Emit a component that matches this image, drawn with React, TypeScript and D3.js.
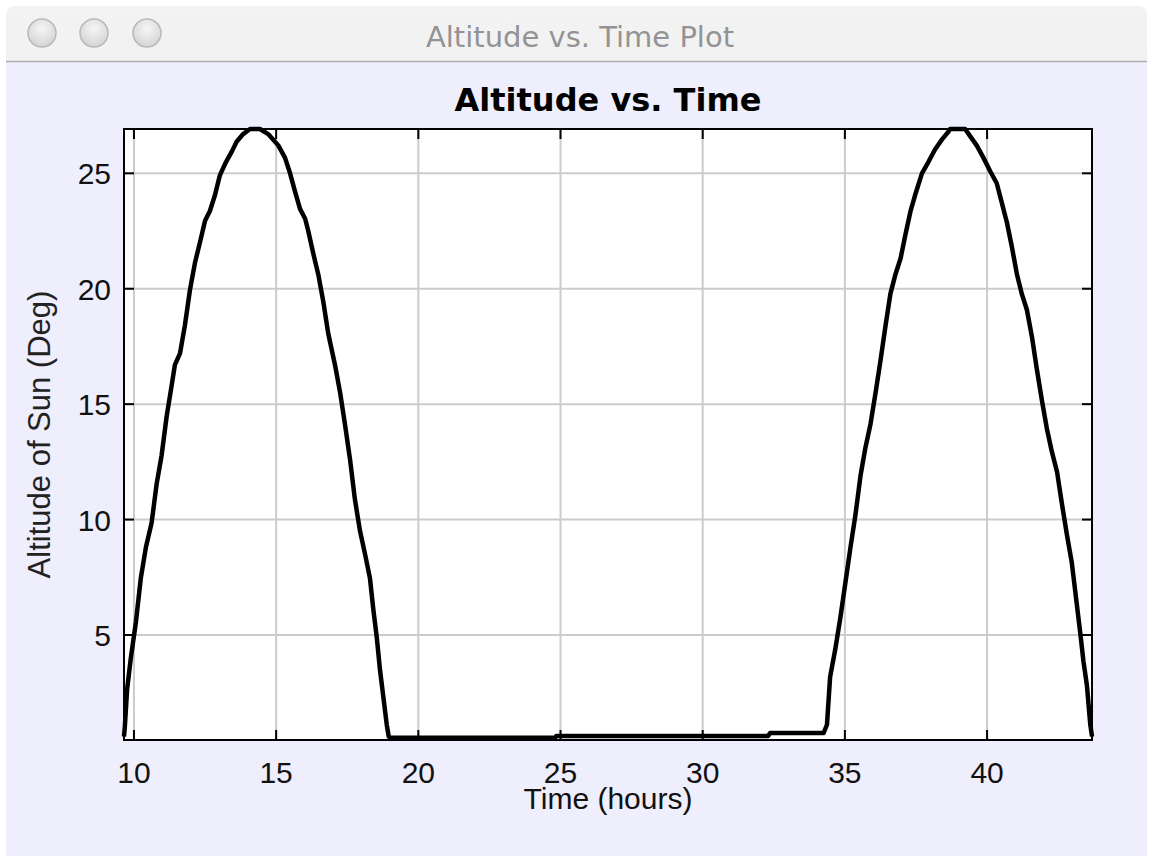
import { useEffect, useRef } from "react";
import * as d3 from "d3";

// altitude of the sun (hours, degrees)
const timeHours = [
  9.65, 9.68, 9.76, 9.89, 10.07, 10.24, 10.42, 10.62, 10.8, 10.97,
  11.15, 11.33, 11.44, 11.62, 11.79, 11.97, 12.15, 12.32, 12.5, 12.67,
  12.85, 13.02, 13.24, 13.44, 13.61, 13.84, 14.08, 14.43, 14.72, 15.08,
  15.31, 15.49, 15.66, 15.84, 16.02, 16.13, 16.31, 16.48, 16.66, 16.83,
  17.07, 17.25, 17.42, 17.6, 17.77, 17.95, 18.13, 18.3, 18.42, 18.54,
  18.65, 18.77, 18.89, 18.96, 19.0, 24.81, 24.85, 32.3, 32.37, 34.25,
  34.37, 34.48, 34.66, 34.84, 35.02, 35.2, 35.37, 35.55, 35.72, 35.9,
  36.08, 36.25, 36.43, 36.6, 36.78, 36.96, 37.13, 37.31, 37.47, 37.71,
  37.94, 38.17, 38.41, 38.64, 38.7, 39.23, 39.41, 39.64, 39.87, 40.11,
  40.34, 40.52, 40.7, 40.87, 41.05, 41.22, 41.4, 41.58, 41.75, 41.93,
  42.1, 42.28, 42.46, 42.63, 42.81, 42.98, 43.13, 43.28, 43.39, 43.51,
  43.63, 43.69,
];

const altitudeDeg = [
  0.6, 1.03, 2.65, 4.0, 5.57, 7.45, 8.8, 9.85, 11.56, 12.76,
  14.47, 15.84, 16.7, 17.2, 18.4, 19.95, 21.15, 22.0, 22.95, 23.37,
  24.06, 24.91, 25.5, 25.94, 26.37, 26.7, 26.92, 26.92, 26.7, 26.2,
  25.68, 25.0, 24.23, 23.46, 23.03, 22.5, 21.5, 20.63, 19.43, 18.07,
  16.7, 15.5, 14.13, 12.59, 10.87, 9.5, 8.48, 7.45, 6.08, 4.88,
  3.51, 2.31, 1.11, 0.6, 0.55, 0.55, 0.62, 0.62, 0.75, 0.75,
  1.11, 3.17, 4.37, 5.74, 7.28, 8.82, 10.19, 11.9, 13.1, 14.13,
  15.5, 16.87, 18.4, 19.78, 20.63, 21.32, 22.35, 23.37, 24.06, 25.0,
  25.5, 26.03, 26.46, 26.8, 26.92, 26.92, 26.6, 26.2, 25.68, 25.09,
  24.57, 23.72, 22.86, 21.83, 20.63, 19.78, 19.09, 17.9, 16.52, 15.15,
  13.96, 12.93, 12.07, 10.7, 9.33, 8.13, 6.59, 5.05, 3.85, 2.83,
  1.11, 0.6,
];

const xTicks = [10, 15, 20, 25, 30, 35, 40];
const yTicks = [5, 10, 15, 20, 25];
const xDomain = [9.65, 43.69];
const yDomain = [0.45, 26.92];

const windowTitle = "Altitude vs. Time Plot";
const chartTitle = "Altitude vs. Time";
const xLabel = "Time (hours)";
const yLabel = "Altitude of Sun (Deg)";

const W = 1153;
const H = 856;

const App = () => {
  const svgRef = useRef<SVGSVGElement>(null);

  useEffect(() => {
    const svg = d3.select(svgRef.current);
    svg.selectAll("*").remove();

    const plot = { left: 124, right: 1092, top: 129, bottom: 740 };
    const x = d3.scaleLinear().domain(xDomain).range([plot.left, plot.right]);
    const y = d3.scaleLinear().domain(yDomain).range([plot.bottom, plot.top]);

    const defs = svg.append("defs");
    const barGrad = defs.append("linearGradient").attr("id", "titlebar").attr("x1", 0).attr("y1", 0).attr("x2", 0).attr("y2", 1);
    barGrad.append("stop").attr("offset", "0%").attr("stop-color", "#f3f3f3");
    barGrad.append("stop").attr("offset", "100%").attr("stop-color", "#d9d9d9");
    const btnGrad = defs.append("radialGradient").attr("id", "btn").attr("cx", "50%").attr("cy", "35%").attr("r", "60%");
    btnGrad.append("stop").attr("offset", "0%").attr("stop-color", "#f6f6f6");
    btnGrad.append("stop").attr("offset", "100%").attr("stop-color", "#d6d6d6");

    // window
    svg.append("rect").attr("width", W).attr("height", H).attr("fill", "#ffffff");
    svg.append("rect")
      .attr("x", 6).attr("y", 6).attr("width", W - 12).attr("height", H - 6)
      .attr("rx", 8)
      .attr("fill", "url(#titlebar)");
    svg.append("rect")
      .attr("x", 6).attr("y", 62).attr("width", W - 12).attr("height", H - 62)
      .attr("fill", "#eeeefd");
    svg.append("line")
      .attr("x1", 6).attr("x2", W - 6).attr("y1", 61.5).attr("y2", 61.5)
      .attr("stroke", "#adadad").attr("stroke-width", 1.5);

    svg.append("g")
      .selectAll("circle")
      .data([42, 94, 147])
      .join("circle")
      .attr("cx", (d) => d).attr("cy", 33).attr("r", 14)
      .attr("fill", "url(#btn)")
      .attr("stroke", "#b9b9b9").attr("stroke-width", 1.5);

    svg.append("text")
      .attr("x", 580).attr("y", 47)
      .attr("text-anchor", "middle")
      .style("font-family", "'DejaVu Sans', sans-serif")
      .style("font-size", "29px")
      .attr("fill", "#939396")
      .text(windowTitle);

    // plot area
    svg.append("rect")
      .attr("x", plot.left).attr("y", plot.top)
      .attr("width", plot.right - plot.left).attr("height", plot.bottom - plot.top)
      .attr("fill", "#ffffff");

    const gGrid = svg.append("g").attr("stroke", "#cccccc").attr("stroke-width", 2);
    gGrid.selectAll(".x")
      .data(xTicks)
      .join("line")
      .attr("class", "x")
      .attr("x1", (d) => x(d)).attr("x2", (d) => x(d))
      .attr("y1", plot.top).attr("y2", plot.bottom);
    gGrid.selectAll(".y")
      .data(yTicks)
      .join("line")
      .attr("class", "y")
      .attr("x1", plot.left).attr("x2", plot.right)
      .attr("y1", (d) => y(d)).attr("y2", (d) => y(d));

    const tickLen = 10;
    const gTicks = svg.append("g").attr("stroke", "#000").attr("stroke-width", 2);
    xTicks.forEach((t) => {
      gTicks.append("line").attr("x1", x(t)).attr("x2", x(t)).attr("y1", plot.bottom).attr("y2", plot.bottom - tickLen);
      gTicks.append("line").attr("x1", x(t)).attr("x2", x(t)).attr("y1", plot.top).attr("y2", plot.top + tickLen);
    });
    yTicks.forEach((t) => {
      gTicks.append("line").attr("x1", plot.left).attr("x2", plot.left + tickLen).attr("y1", y(t)).attr("y2", y(t));
      gTicks.append("line").attr("x1", plot.right).attr("x2", plot.right - tickLen).attr("y1", y(t)).attr("y2", y(t));
    });

    const line = d3.line<number>()
      .x((d, i) => x(timeHours[i]))
      .y((d) => y(d));

    svg.append("path")
      .datum(altitudeDeg)
      .attr("d", line)
      .attr("fill", "none")
      .attr("stroke", "#000")
      .attr("stroke-width", 4.5)
      .attr("stroke-linejoin", "round");

    svg.append("rect")
      .attr("x", plot.left).attr("y", plot.top)
      .attr("width", plot.right - plot.left).attr("height", plot.bottom - plot.top)
      .attr("fill", "none")
      .attr("stroke", "#000").attr("stroke-width", 2);

    // tick labels
    const labelFont = "'Liberation Sans', Arial, sans-serif";
    svg.append("g")
      .selectAll("text")
      .data(xTicks)
      .join("text")
      .attr("x", (d) => x(d)).attr("y", 783)
      .attr("text-anchor", "middle")
      .style("font-family", labelFont).style("font-size", "30px")
      .attr("fill", "#111")
      .text((d) => d);
    svg.append("g")
      .selectAll("text")
      .data(yTicks)
      .join("text")
      .attr("x", 111).attr("y", (d) => y(d) + 11)
      .attr("text-anchor", "end")
      .style("font-family", labelFont).style("font-size", "30px")
      .attr("fill", "#111")
      .text((d) => d);

    svg.append("text")
      .attr("x", (plot.left + plot.right) / 2).attr("y", 809)
      .attr("text-anchor", "middle")
      .style("font-family", labelFont).style("font-size", "30px")
      .attr("fill", "#111")
      .text(xLabel);

    svg.append("text")
      .attr("transform", `translate(50, ${(plot.top + plot.bottom) / 2}) rotate(-90)`)
      .attr("text-anchor", "middle")
      .style("font-family", labelFont).style("font-size", "31px")
      .attr("fill", "#222")
      .text(yLabel);

    svg.append("text")
      .attr("x", (plot.left + plot.right) / 2).attr("y", 111)
      .attr("text-anchor", "middle")
      .style("font-family", "'DejaVu Sans', sans-serif")
      .style("font-size", "32px").style("font-weight", "bold")
      .attr("fill", "#000")
      .text(chartTitle);
  }, []);

  return (
    <div style={{ width: W, height: H }}>
      <style>{`body{margin:0}`}</style>
      <svg ref={svgRef} width={W} height={H} style={{ display: "block" }}></svg>
    </div>
  );
};

export default App;
